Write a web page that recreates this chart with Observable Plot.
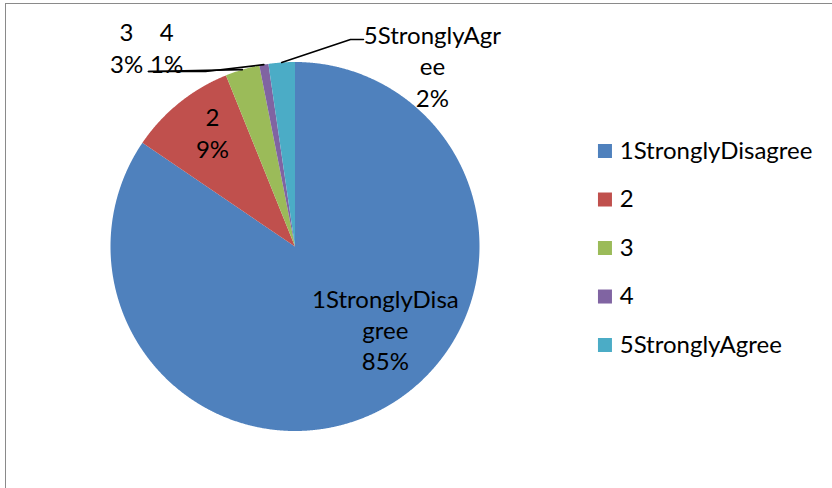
<!DOCTYPE html>
<html><head><meta charset="utf-8">
<script src="https://cdn.jsdelivr.net/npm/d3@7"></script>
<script src="https://cdn.jsdelivr.net/npm/@observablehq/plot@0.6"></script>
<style>
html,body{margin:0;padding:0;background:#fff;}
#chart{position:relative;width:832px;height:488px;overflow:hidden;}
#chart svg{position:absolute;left:0;top:0;}
#frame{position:absolute;left:5px;top:3px;width:900px;height:600px;border-left:1px solid #8a8a8a;border-top:1px solid #8a8a8a;}
</style></head><body><div id="chart"></div>
<script>
// ---- data ----
const categories = ["1StronglyDisagree", "2", "3", "4", "5StronglyAgree"];
const shares = [84.5, 9.4, 3.0, 0.8, 2.3];
const labelNames = ["1StronglyDisa\ngree", "2", "3", "4", "5StronglyAgr\nee"];
const colors = ["#4F81BD", "#C0504D", "#9BBB59", "#8064A2", "#4BACC6"];

// ---- layout (pie units: radius 1, origin at pie centre, y up) ----
const labelPos = [[0.49, -0.447], [-0.447, 0.62], [-0.913, 1.081], [-0.696, 1.081], [0.745, 0.983]];
const leaderAnchors = {2: [[-0.794, 0.9485]], 3: [[-0.794, 0.9485], [-0.485, 0.9485]], 4: [[0.371, 1.122], [0.3008, 1.122]]};
const legendX = 1.68, legendTextX = 1.76, legendTop = 0.5176, legendStep = 0.2629;

const slices = categories.map((c, i) => ({cat: c, share: shares[i], i}));
const arcs = d3.pie().sort(null).value(d => d.share)(slices);

// polygon points per slice
const polys = [];
arcs.forEach(a => {
  const c = a.data.cat;
  polys.push({cat: c, x: 0, y: 0});
  const n = Math.max(2, Math.ceil((a.endAngle - a.startAngle) / 0.004));
  for (let k = 0; k <= n; k++) {
    const t = a.startAngle + (a.endAngle - a.startAngle) * k / n;
    polys.push({cat: c, x: Math.sin(t), y: Math.cos(t)});
  }
  polys.push({cat: c, x: 0, y: 0});
});

const labels = arcs.map((a, i) => ({
  x: labelPos[i][0], y: labelPos[i][1],
  text: labelNames[i] + "\n" + Math.round(a.data.share) + "%"
}));

const leaders = [];
Object.entries(leaderAnchors).forEach(([i, pts]) => {
  const a = arcs[+i];
  const m = (a.startAngle + a.endAngle) / 2;
  pts.forEach(p => leaders.push({k: i, x: p[0], y: p[1]}));
  leaders.push({k: i, x: Math.sin(m), y: Math.cos(m)});
});

const legend = categories.map((c, i) => ({cat: c, y: legendTop - i * legendStep}));

const chart = Plot.plot({
  width: 832, height: 488,
  marginTop: 0, marginRight: 0, marginBottom: 0, marginLeft: 0,
  x: {domain: [-1, 1], range: [110, 479], axis: null},
  y: {domain: [-1, 1], range: [430.5, 61.5], axis: null},
  color: {domain: categories, range: colors},
  style: {fontFamily: "Lato, 'Open Sans', sans-serif", fontSize: "24px", background: "transparent", color: "#000"},
  marks: [
    Plot.line(polys, {x: "x", y: "y", z: "cat", fill: "cat", stroke: "none", curve: "linear"}),
    Plot.line(leaders, {x: "x", y: "y", z: "k", stroke: "#000", strokeWidth: 1.6, curve: "linear"}),
    Plot.text(labels, {x: "x", y: "y", text: "text", textAnchor: "middle", lineAnchor: "middle", lineHeight: 1.31, fill: "#000", fontSize: 24}),
    Plot.dot(legend, {x: () => legendX, y: "y", fill: "cat", symbol: "square", r: 7.9, stroke: "none"}),
    Plot.text(legend, {x: () => legendTextX, y: "y", text: "cat", textAnchor: "start", fill: "#000", fontSize: 24})
  ]
});
const host = document.getElementById("chart");
host.appendChild(chart);
const fr = document.createElement("div");
fr.id = "frame";
host.appendChild(fr);
</script>
</body></html>
